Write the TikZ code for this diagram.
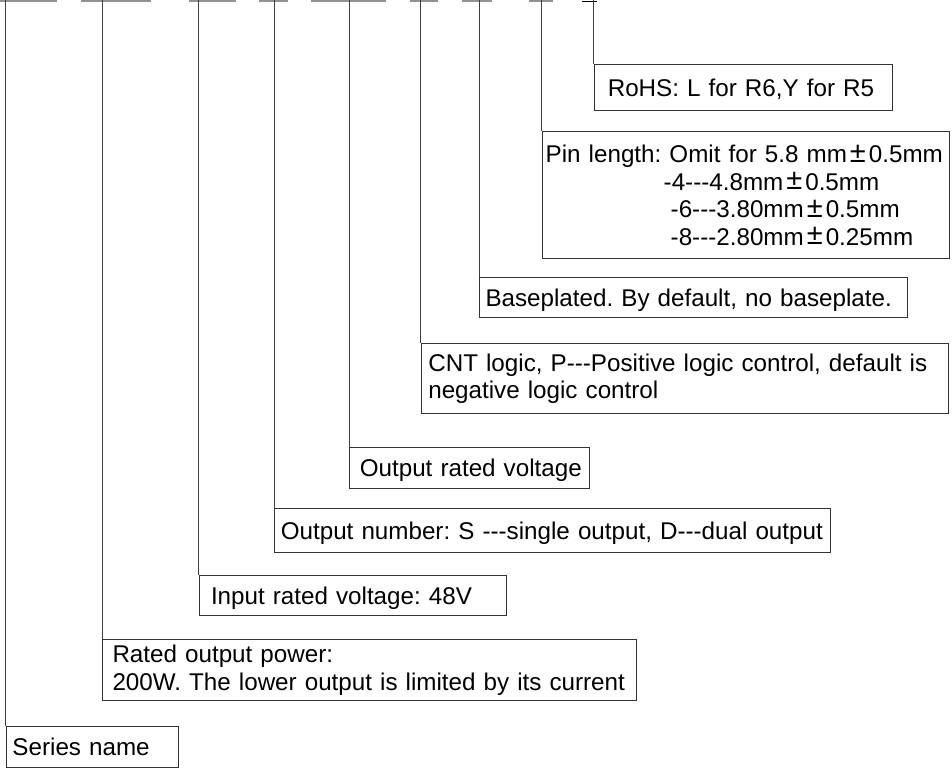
\documentclass[tikz,border=0pt]{standalone}
\usepackage{fontspec}
\usepackage{graphicx}
\setmainfont{Liberation Sans}
\frenchspacing
\newcommand\tdash{-\kern0pt-\kern0pt-}
\newcommand\pmx{\hspace{3pt}\raisebox{0.5pt}{\scalebox{1.2}{±}}\hspace{3pt}}
\newcommand\nb[1]{\mbox{#1}}
\begin{document}
\begin{tikzpicture}[x=1pt,y=-1pt,
  every node/.style={font=\fontsize{24.2}{27.5}\selectfont\frenchspacing},
  lbl/.style={draw=black!80, line width=1pt, anchor=north west, align=left, inner ysep=0pt},
  one/.style={text height=17.4pt, text depth=0pt},
  tick/.style={draw=black!75, line width=1pt},
  bar/.style={draw=gray!85, line width=2.2pt},
  endbar/.style={draw=black, line width=0.8pt}]
\useasboundingbox (0,0) rectangle (952,776);

% top code segments
\draw[bar] (0,1) -- (57,1);
\draw[bar] (81,1) -- (151,1);
\draw[bar] (189,1) -- (236,1);
\draw[bar] (259,1) -- (288,1);
\draw[bar] (311,1) -- (386,1);
\draw[bar] (410,1) -- (438,1);
\draw[bar] (462,1) -- (492,1);
\draw[bar] (529,1) -- (553,1);
\draw[endbar] (582,1.3) -- (597,1.3);

\coordinate (t1) at (5.7,0);
\coordinate (t2) at (102,0);
\coordinate (t3) at (198.5,0);
\coordinate (t4) at (274.3,0);
\coordinate (t5) at (349.3,0);
\coordinate (t6) at (420.8,0);
\coordinate (t7) at (479,0);
\coordinate (t8) at (541.7,0);
\coordinate (t9) at (593.8,0);

\node[lbl,one,minimum width=172pt,minimum height=41pt,inner xsep=6.3pt,text width=159.4pt]
  (series) at (t1 |- 0,726) {\nb{Series name}};
\node[lbl,minimum width=534pt,minimum height=61pt,inner xsep=10pt,text width=514pt]
  (rated) at (t2 |- 0,639) {\nb{Rated output power:}\\ \nb{200W. The lower output is limited by its current}};
\node[lbl,one,minimum width=307.5pt,minimum height=40pt,inner xsep=12pt,text width=283.5pt]
  (input) at (t3 |- 0,575) {\nb{Input rated voltage: 48V}};
\node[lbl,one,minimum width=556pt,minimum height=44pt,inner xsep=6pt,text width=544pt]
  (outnum) at (t4 |- 0,508) {\nb{Output number: S \tdash single output, D\tdash dual output}};
\node[lbl,one,minimum width=240pt,minimum height=41pt,inner xsep=10pt,text width=220pt]
  (orv) at (t5 |- 0,447) {\nb{Output rated voltage}};
\node[lbl,minimum width=527pt,minimum height=70pt,inner xsep=7pt,text width=513pt]
  (cnt) at (t6 |- 0,343) {\nb{CNT logic, P\tdash Positive logic control, default is}\\ \nb{negative logic control}};
\node[lbl,one,minimum width=428pt,minimum height=40pt,inner xsep=6pt,text width=416pt]
  (base) at (t7 |- 0,277) {\nb{Baseplated. By default, no baseplate.}};
\node[lbl,minimum width=407pt,minimum height=127pt,inner xsep=3.5pt,text width=400pt]
  (pin) at (t8 |- 0,131) {\nb{Pin length: Omit for 5.8 mm\pmx 0.5mm}\\
   \nb{\hspace*{118pt}-4\tdash 4.8mm\pmx 0.5mm}\\
   \nb{\hspace*{125pt}-6\tdash 3.80mm\pmx 0.5mm}\\
   \nb{\hspace*{125pt}-8\tdash 2.80mm\pmx 0.25mm}};
\node[lbl,one,minimum width=298pt,minimum height=46pt,inner xsep=13.5pt,text width=271pt]
  (rohs) at (t9 |- 0,64) {\nb{RoHS: L for R6,Y for R5}};

\draw[tick] (t1) -- (series.north west);
\draw[tick] (t2) -- (rated.north west);
\draw[tick] (t3) -- (input.north west);
\draw[tick] (t4) -- (outnum.north west);
\draw[tick] (t5) -- (orv.north west);
\draw[tick] (t6) -- (cnt.north west);
\draw[tick] (t7) -- (base.north west);
\draw[tick] (t8) -- (pin.north west);
\draw[tick] (t9) -- (rohs.north west);
\end{tikzpicture}
\end{document}
